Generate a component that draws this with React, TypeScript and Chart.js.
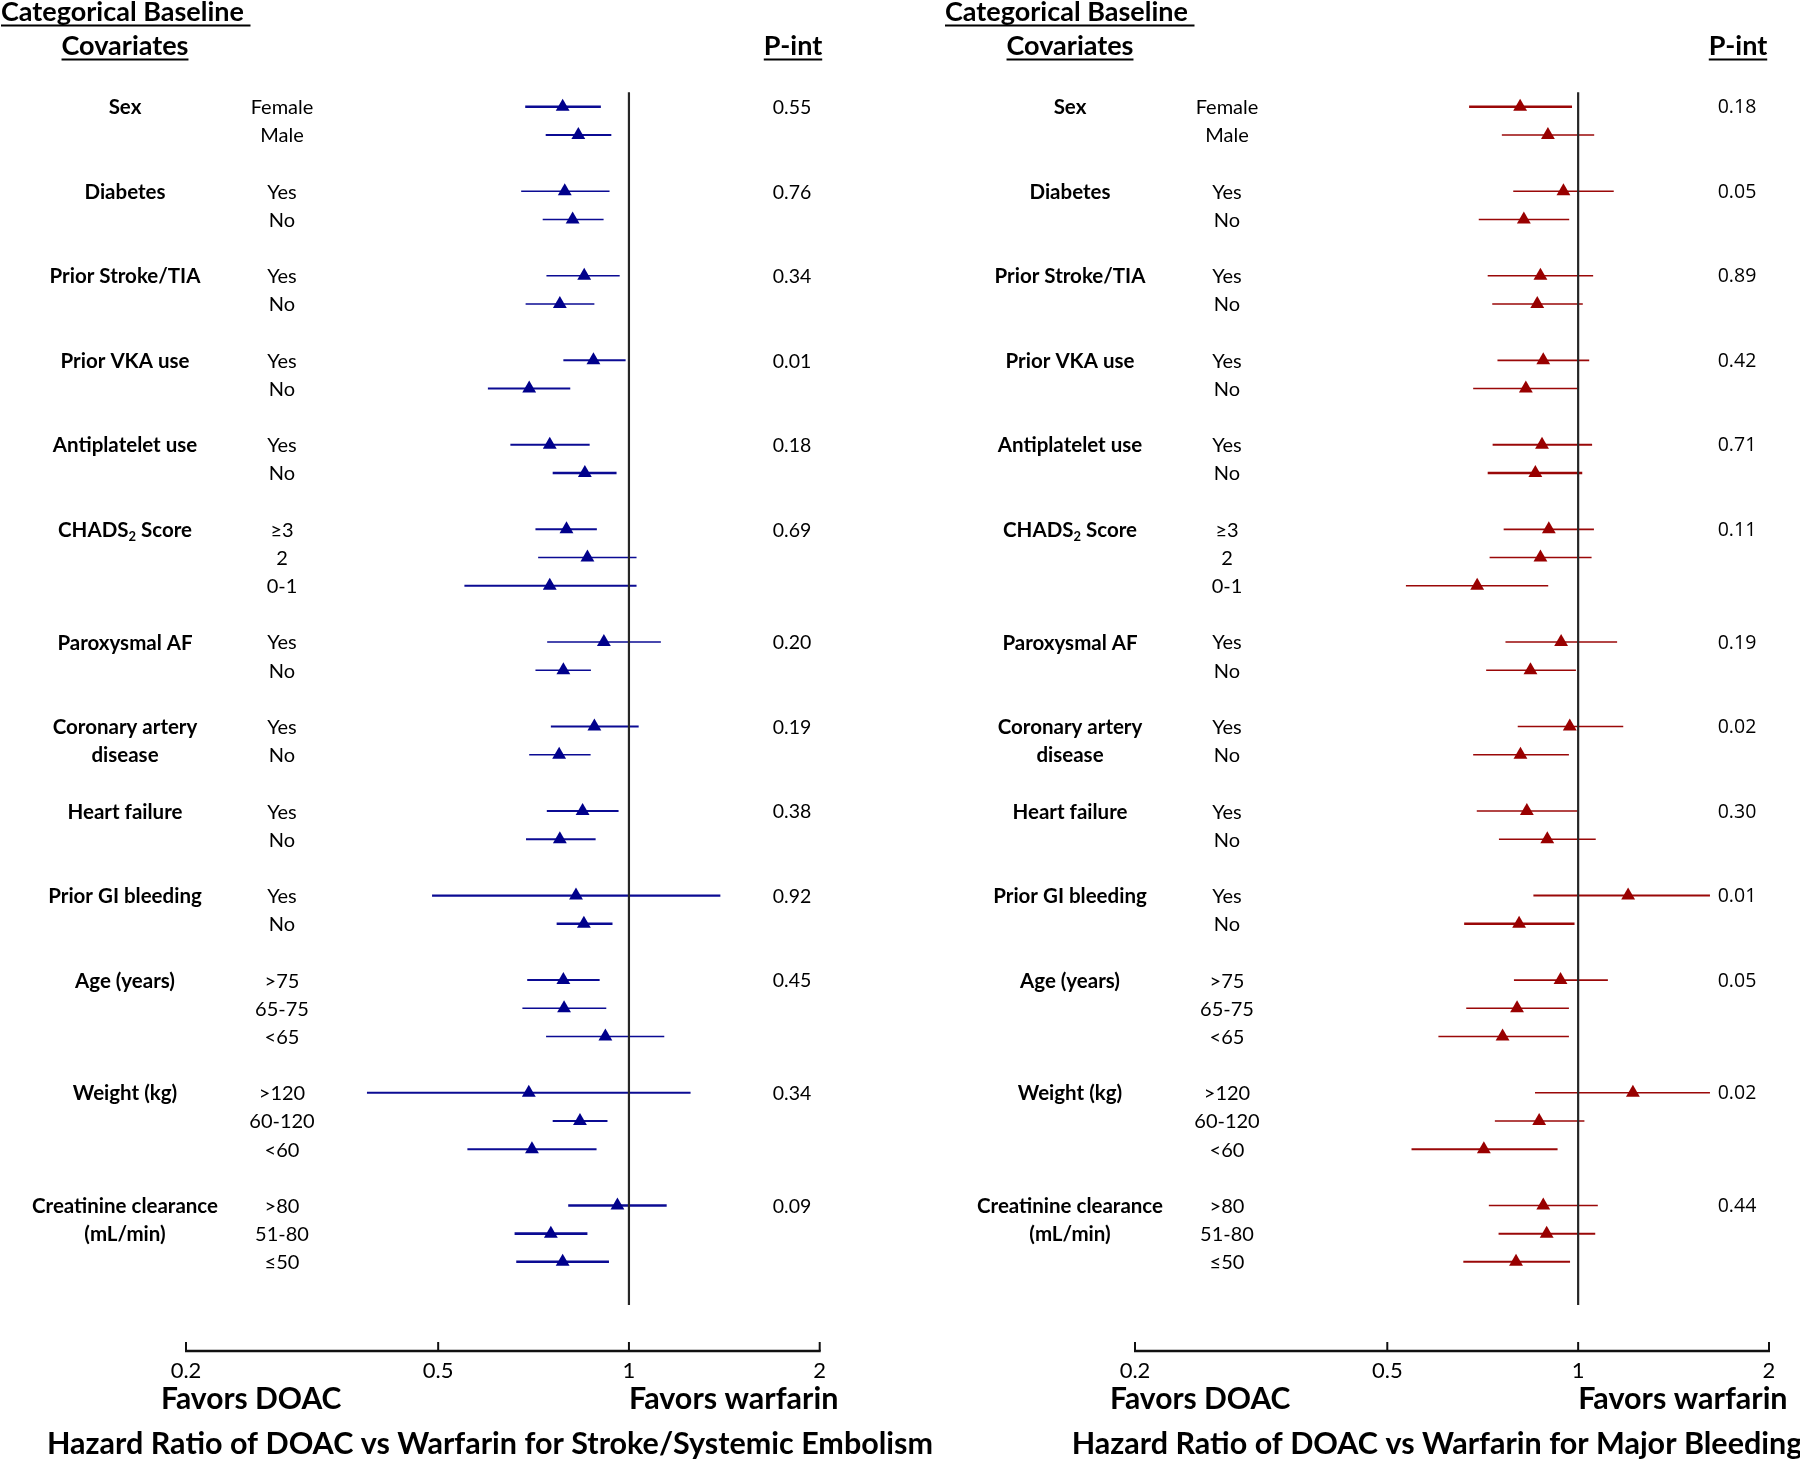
import React, { useEffect, useRef } from "react";
import { Chart, registerables } from "chart.js";

Chart.register(...registerables);

// ---------------- DATA ----------------
const GROUPS = [
  "Sex",
  "Diabetes",
  "Prior Stroke/TIA",
  "Prior VKA use",
  "Antiplatelet use",
  "CHADS₂ Score",
  "Paroxysmal AF",
  "Coronary artery\ndisease",
  "Heart failure",
  "Prior GI bleeding",
  "Age (years)",
  "Weight (kg)",
  "Creatinine clearance\n(mL/min)",
];

const SUBGROUPS = [
  ["Female", "Male"],
  ["Yes", "No"],
  ["Yes", "No"],
  ["Yes", "No"],
  ["Yes", "No"],
  ["≥3", "2", "0-1"],
  ["Yes", "No"],
  ["Yes", "No"],
  ["Yes", "No"],
  ["Yes", "No"],
  [">75", "65-75", "<65"],
  [">120", "60-120", "<60"],
  [">80", "51-80", "≤50"],
];

const P_STROKE = ["0.55", "0.76", "0.34", "0.01", "0.18", "0.69", "0.20", "0.19", "0.38", "0.92", "0.45", "0.34", "0.09"];
const P_BLEED = ["0.18", "0.05", "0.89", "0.42", "0.71", "0.11", "0.19", "0.02", "0.30", "0.01", "0.05", "0.02", "0.44"];

const HR_STROKE = [0.786, 0.832, 0.792, 0.815, 0.85, 0.778, 0.879, 0.696, 0.75, 0.852, 0.797, 0.86, 0.75, 0.913, 0.788, 0.882, 0.776, 0.845, 0.778, 0.825, 0.849, 0.788, 0.79, 0.918, 0.695, 0.837, 0.703, 0.959, 0.753, 0.786];
const LO_STROKE = [0.686, 0.739, 0.676, 0.731, 0.741, 0.687, 0.788, 0.599, 0.65, 0.758, 0.712, 0.719, 0.55, 0.743, 0.712, 0.753, 0.696, 0.742, 0.688, 0.489, 0.769, 0.691, 0.679, 0.74, 0.386, 0.758, 0.556, 0.802, 0.66, 0.664];
const HI_STROKE = [0.903, 0.938, 0.932, 0.912, 0.967, 0.882, 0.988, 0.808, 0.867, 0.956, 0.89, 1.028, 1.028, 1.123, 0.871, 1.036, 0.87, 0.963, 0.886, 1.394, 0.942, 0.899, 0.921, 1.137, 1.251, 0.925, 0.889, 1.147, 0.86, 0.93];
const LW_STROKE = [2.6, 2, 1.6, 1.6, 1.6, 1.6, 2, 2, 2, 2.6, 2, 1.6, 2, 1.6, 1.6, 2, 1.6, 2, 2, 2.4, 2.6, 2, 1.6, 1.6, 2, 2, 2, 2.4, 2.6, 2.4];

const HR_BLEED = [0.81, 0.896, 0.948, 0.821, 0.872, 0.862, 0.881, 0.827, 0.877, 0.856, 0.899, 0.872, 0.693, 0.94, 0.841, 0.97, 0.811, 0.83, 0.894, 1.199, 0.807, 0.938, 0.801, 0.76, 1.22, 0.868, 0.71, 0.881, 0.892, 0.798];
const LO_BLEED = [0.673, 0.758, 0.79, 0.697, 0.72, 0.732, 0.746, 0.683, 0.733, 0.72, 0.763, 0.725, 0.535, 0.768, 0.716, 0.803, 0.683, 0.692, 0.75, 0.85, 0.661, 0.792, 0.666, 0.602, 0.855, 0.739, 0.546, 0.723, 0.749, 0.659];
const HI_BLEED = [0.978, 1.06, 1.138, 0.968, 1.056, 1.017, 1.041, 1.0, 1.052, 1.015, 1.059, 1.05, 0.897, 1.152, 0.992, 1.178, 0.967, 0.999, 1.066, 1.614, 0.987, 1.114, 0.967, 0.967, 1.614, 1.023, 0.928, 1.074, 1.064, 0.971];
const LW_BLEED = [2.6, 1.6, 1.6, 1.6, 1.6, 1.6, 1.6, 1.6, 2, 2.6, 1.6, 1.6, 1.6, 1.6, 1.6, 1.6, 1.6, 1.6, 1.6, 2, 2.6, 1.6, 1.6, 1.6, 1.6, 1.6, 2, 1.6, 2, 2];

const X_TICKS = [0.2, 0.5, 1, 2];
const X_TICK_LABELS = ["0.2", "0.5", "1", "2"];
const REF_VALUE = 1;

// ---------------- LAYOUT HELPERS ----------------
type Row = { slot: number; gi: number; j: number };
function buildRows(): Row[] {
  const rows: Row[] = [];
  let s = 0;
  GROUPS.forEach((_, gi) => {
    SUBGROUPS[gi].forEach((__, j) => {
      rows.push({ slot: s, gi, j });
      s++;
    });
    s++;
  });
  return rows;
}
const ROWS = buildRows();
const LAST_SLOT = ROWS[ROWS.length - 1].slot;

const FONT = 'Lato, "Noto Sans", sans-serif';
const TEXT_DY = 1;

type Panel = {
  left: number;
  width: number;
  padL: number;
  padR: number;
  hr: number[];
  lo: number[];
  hi: number[];
  lw: number[];
  p: string[];
  color: string;
  lineColor: string;
  title: string;
  titleX: number;
  pFont: string;
  headX: number;
};

const PANELS: Panel[] = [
  {
    left: 0,
    width: 945,
    padL: 186,
    padR: 125.3,
    hr: HR_STROKE,
    lo: LO_STROKE,
    hi: HI_STROKE,
    lw: LW_STROKE,
    p: P_STROKE,
    color: "#00008B",
    lineColor: "#0b0b93",
    title: "Hazard Ratio of DOAC vs Warfarin for Stroke/Systemic Embolism",
    titleX: 490,
    pFont: FONT,
    headX: 1,
  },
  {
    left: 945,
    width: 855,
    padL: 190,
    padR: 31,
    hr: HR_BLEED,
    lo: LO_BLEED,
    hi: HI_BLEED,
    lw: LW_BLEED,
    p: P_BLEED,
    color: "#990000",
    lineColor: "#9a0808",
    title: "Hazard Ratio of DOAC vs Warfarin for Major Bleeding",
    titleX: 492,
    pFont: '"Open Sans", Lato, sans-serif',
    headX: 0,
  },
];

function drawUnderlined(ctx: CanvasRenderingContext2D, text: string, x: number, y: number, align: "left" | "center", size: number) {
  ctx.font = `bold ${size}px ${FONT}`;
  ctx.textAlign = align;
  ctx.textBaseline = "middle";
  ctx.fillText(text, x, y);
  const w = ctx.measureText(text).width;
  const x0 = align === "center" ? x - w / 2 : x;
  ctx.beginPath();
  ctx.lineWidth = 2;
  ctx.strokeStyle = "#000";
  ctx.moveTo(x0, y + size * 0.5);
  ctx.lineTo(x0 + w, y + size * 0.5);
  ctx.stroke();
}

function drawLabel(ctx: CanvasRenderingContext2D, text: string, cx: number, cy: number, size: number) {
  if (text.includes("₂")) {
    const [a, b] = text.split("₂");
    const big = `bold ${size}px ${FONT}`;
    const small = `bold ${Math.round(size * 0.62)}px ${FONT}`;
    ctx.font = big;
    const wa = ctx.measureText(a).width;
    const wb = ctx.measureText(b).width;
    ctx.font = small;
    const ws = ctx.measureText("2").width;
    let x = cx - (wa + ws + wb) / 2;
    ctx.textAlign = "left";
    ctx.textBaseline = "middle";
    ctx.font = big;
    ctx.fillText(a, x, cy);
    x += wa;
    ctx.font = small;
    ctx.fillText("2", x, cy + size * 0.32);
    x += ws;
    ctx.font = big;
    ctx.fillText(b, x, cy);
    return;
  }
  ctx.font = `bold ${size}px ${FONT}`;
  ctx.textAlign = "center";
  ctx.textBaseline = "middle";
  ctx.fillText(text, cx, cy);
}

function makeConfig(panel: Panel): any {
  const ciSets = ROWS.map((r, i) => ({
    type: "line",
    data: [
      { x: panel.lo[i], y: r.slot },
      { x: panel.hi[i], y: r.slot },
    ],
    borderColor: panel.lineColor,
    borderWidth: panel.lw[i],
    pointRadius: 0,
    showLine: true,
    fill: false,
  }));
  const refSet = {
    type: "line",
    data: [
      { x: REF_VALUE, y: -0.52 },
      { x: REF_VALUE, y: LAST_SLOT + 1.53 },
    ],
    borderColor: "#262626",
    borderWidth: 2.2,
    pointRadius: 0,
    showLine: true,
    fill: false,
  };
  const pointSet = {
    type: "scatter",
    data: ROWS.map((r, i) => ({ x: panel.hr[i], y: r.slot })),
    pointStyle: "triangle",
    pointRadius: 8,
    backgroundColor: panel.color,
    borderColor: panel.color,
    borderWidth: 0,
    showLine: false,
  };

  const textPlugin = {
    id: "forestText",
    afterDraw(chart: any) {
      const { ctx, chartArea } = chart;
      const xs = chart.scales.x;
      const ys = chart.scales.y;
      ctx.save();
      ctx.fillStyle = "#000";

      // headers
      drawUnderlined(ctx, "Categorical Baseline ", panel.headX, 12, "left", 27);
      drawUnderlined(ctx, "Covariates", 125, 46, "center", 27);
      drawUnderlined(ctx, "P-int", 793, 46, "center", 27);

      // rows
      ROWS.forEach((r) => {
        const py = ys.getPixelForValue(r.slot) + TEXT_DY;
        ctx.font = `20px ${FONT}`;
        ctx.textAlign = "center";
        ctx.textBaseline = "middle";
        ctx.fillText(SUBGROUPS[r.gi][r.j], 282, py);
        const lines = GROUPS[r.gi].split("\n");
        if (r.j < lines.length) {
          drawLabel(ctx, lines[r.j], 125, py, 20.5);
        }
        if (r.j === 0) {
          ctx.font = `19.5px ${panel.pFont}`;
          ctx.textAlign = "center";
          ctx.fillText(panel.p[r.gi], 792, py);
        }
      });

      // x axis
      const by = chartArea.bottom;
      const x0 = xs.getPixelForValue(X_TICKS[0]);
      const x1 = xs.getPixelForValue(X_TICKS[X_TICKS.length - 1]);
      ctx.strokeStyle = "#111";
      ctx.lineWidth = 2.6;
      ctx.beginPath();
      ctx.moveTo(x0 - 1, by);
      ctx.lineTo(x1 + 1, by);
      ctx.stroke();
      ctx.lineWidth = 2;
      X_TICKS.forEach((t, k) => {
        const tx = xs.getPixelForValue(t);
        ctx.beginPath();
        ctx.moveTo(tx, by);
        ctx.lineTo(tx, by - 9);
        ctx.stroke();
        ctx.font = `22px ${FONT}`;
        ctx.textAlign = "center";
        ctx.textBaseline = "middle";
        ctx.fillText(X_TICK_LABELS[k], tx, by + 20);
      });

      ctx.font = `bold 30px ${FONT}`;
      ctx.textAlign = "left";
      ctx.textBaseline = "middle";
      ctx.fillText("Favors DOAC", x0 - 25, by + 48);
      ctx.font = `bold 30.5px ${FONT}`;
      ctx.fillText("Favors warfarin", xs.getPixelForValue(REF_VALUE), by + 48);
      ctx.textAlign = "center";
      ctx.fillText(panel.title, panel.titleX, by + 93);
      ctx.restore();
    },
  };

  return {
    type: "scatter",
    data: { datasets: [pointSet, refSet, ...ciSets] },
    options: {
      animation: false,
      responsive: false,
      maintainAspectRatio: false,
      devicePixelRatio: 1,
      events: [],
      layout: { padding: { left: panel.padL, right: panel.padR, top: 60, bottom: 109 } },
      plugins: { legend: { display: false }, tooltip: { enabled: false } },
      scales: {
        x: { type: "logarithmic", min: X_TICKS[0], max: X_TICKS[X_TICKS.length - 1], display: false },
        y: { type: "linear", min: -1.661, max: 44.166, reverse: true, display: false },
      },
    },
    plugins: [textPlugin],
  };
}

function PanelChart({ panel }: { panel: Panel }) {
  const ref = useRef<HTMLCanvasElement | null>(null);
  useEffect(() => {
    if (!ref.current) return;
    const chart = new Chart(ref.current, makeConfig(panel));
    return () => chart.destroy();
  }, [panel]);
  return (
    <canvas
      ref={ref}
      width={panel.width}
      height={1460}
      style={{ position: "absolute", left: panel.left, top: 0, width: panel.width, height: 1460 }}
    />
  );
}

export default function App() {
  useEffect(() => {
    document.body.style.margin = "0";
  }, []);
  return (
    <div style={{ position: "absolute", left: 0, top: 0, width: 1800, height: 1460, background: "#fff", overflow: "hidden" }}>
      {PANELS.map((p, i) => (
        <PanelChart key={i} panel={p} />
      ))}
    </div>
  );
}
